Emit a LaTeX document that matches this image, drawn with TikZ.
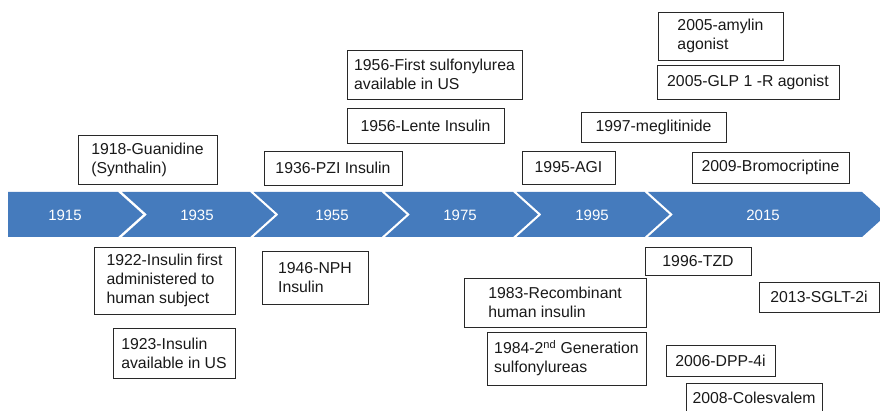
\documentclass[tikz,border=0pt]{standalone}
\usepackage{fontspec}
\setmainfont{Liberation Sans}
\definecolor{bandblue}{RGB}{69,123,189}
\definecolor{boxline}{RGB}{40,40,40}
\begin{document}
\begin{tikzpicture}[x=1pt,y=-1pt,
  evbox/.style={draw=boxline, line width=0.8pt, fill=white, inner sep=0pt, align=left,
    font=\fontsize{15.8}{19}\selectfont, text=black!90},
  yearlbl/.style={text=white, font=\fontsize{15}{18}\selectfont, inner sep=0pt},
  seg/.style={fill=bandblue, draw=none}]
\useasboundingbox (0,0) rectangle (880,411);
\clip (0,0) rectangle (880,411);
% timeline band
\fill[seg] (8,192) -- (118,192) -- (143,214.5) -- (118,237) -- (8,237) -- cycle;
\foreach \L in {122,253.5,385,516.5}{
  \fill[seg] (\L,192) -- ({\L+128},192) -- ({\L+153},214.5) -- ({\L+128},237) -- (\L,237) -- ({\L+25},214.5) -- cycle;
}
\fill[seg] (648,192) -- (862,192) -- (887,214.5) -- (862,237) -- (648,237) -- (673,214.5) -- cycle;
% years
\node[yearlbl] (y1915) at (65,215.5) {1915};
\node[yearlbl] (y1935) at (197,215.5) {1935};
\node[yearlbl] (y1955) at (332,215.5) {1955};
\node[yearlbl] (y1975) at (460,215.5) {1975};
\node[yearlbl] (y1995) at (592,215.5) {1995};
\node[yearlbl] (y2015) at (763,215.5) {2015};
% boxes above
\node[evbox, minimum width=139pt, minimum height=49pt] (g1918) at (147.5,159.5) {1918-Guanidine\\(Synthalin)};
\node[evbox, minimum width=138pt, minimum height=34pt] (p1936) at (333,168) {1936-PZI Insulin};
\node[evbox, minimum width=175pt, minimum height=49pt] (s1956) at (434.5,74.5) {1956-First sulfonylurea\\available in US};
\node[evbox, minimum width=157pt, minimum height=35pt] (l1956) at (425.5,125.5) {1956-Lente Insulin};
\node[evbox, minimum width=145pt, minimum height=30pt] (m1997) at (653.5,127) {1997-meglitinide};
\node[evbox, minimum width=93pt, minimum height=33pt] (a1995) at (568.5,167.5) {1995-AGI};
\node[evbox, minimum width=157pt, minimum height=31pt] (b2009) at (770.5,167.5) {2009-Bromocriptine};
\node[evbox, minimum width=125pt, minimum height=48pt] (am2005) at (720.5,36) {2005-amylin\\agonist};
\node[evbox, minimum width=182pt, minimum height=34pt] (glp2005) at (748,82) {2005-GLP 1 -R agonist};
% boxes below
\node[evbox, minimum width=141pt, minimum height=67pt] (i1922) at (164.5,280.5) {1922-Insulin first\\administered to\\human subject};
\node[evbox, minimum width=122pt, minimum height=50pt] (i1923) at (174,353) {1923-Insulin\\available in US};
\node[evbox, minimum width=106pt, minimum height=53pt] (n1946) at (315,277.5) {1946-NPH\\Insulin};
\node[evbox, minimum width=182pt, minimum height=49pt] (r1983) at (555,302.5) {1983-Recombinant\\human insulin};
\node[evbox, minimum width=159pt, minimum height=53pt] (s1984) at (566.5,358.5) {1984-2\textsuperscript{nd} Generation\\sulfonylureas};
\node[evbox, minimum width=106pt, minimum height=28pt] (t1996) at (698,261) {1996-TZD};
\node[evbox, minimum width=120pt, minimum height=30pt] (sg2013) at (819,297) {2013-SGLT-2i};
\node[evbox, minimum width=109pt, minimum height=31pt] (d2006) at (720.5,360.5) {2006-DPP-4i};
\node[evbox, minimum width=136pt, minimum height=30pt] (c2008) at (754,398) {2008-Colesvalem};
\end{tikzpicture}
\end{document}
